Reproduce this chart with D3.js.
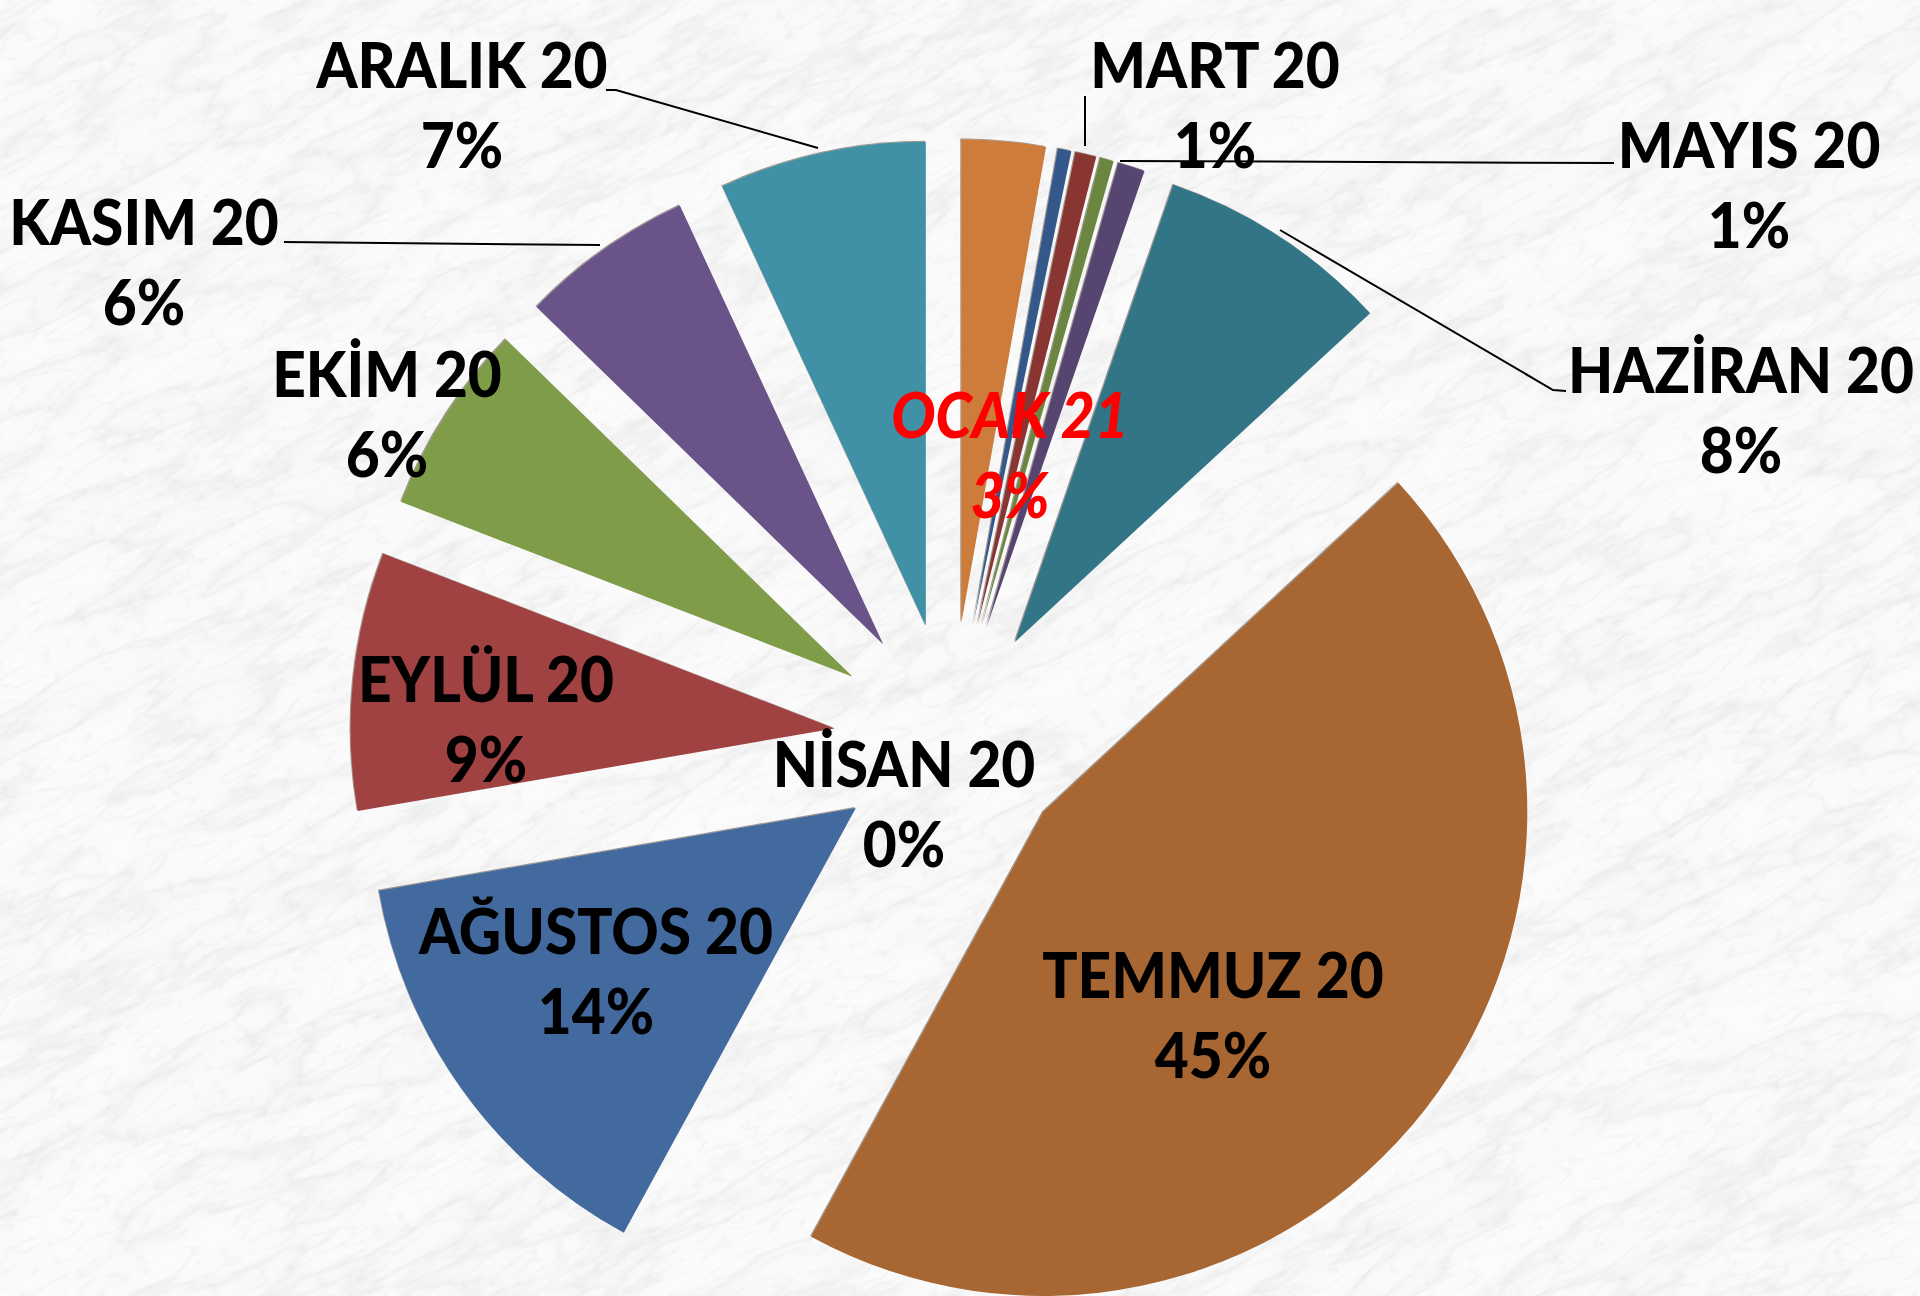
<!DOCTYPE html>
<html>
<head>
<meta charset="utf-8">
<script src="https://cdn.jsdelivr.net/npm/d3@7"></script>
<style>
html,body{margin:0;padding:0;background:#f5f5f5;}
svg{display:block;}
</style>
</head>
<body>
<svg id="chart" width="1920" height="1296"></svg>
<script>
// ---- data ----
const categories = ["ŞUBAT 20","MART 20","NİSAN 20","MAYIS 20","HAZİRAN 20","TEMMUZ 20","AĞUSTOS 20","EYLÜL 20","EKİM 20","KASIM 20","ARALIK 20","OCAK 21"];
const values     = [0.45, 0.7, 0.45, 0.9, 7.8, 44.8, 14.3, 8.6, 6.4, 5.8, 6.9, 2.8];
const colors     = ["#34598a","#893533","#6b863f","#574470","#327587","#a86630","#426a9e","#a04242","#7f9c4a","#6a5389","#3f90a6","#cd7b3a"];
const showLabel  = [false, true, true, true, true, true, true, true, true, true, true, true];

// ---- layout (label anchors & leader lines) ----
const layout = {
  "MART 20":    {x:1215, y:88,  lead:[[1085,96],[1085,146]]},
  "NİSAN 20":   {x:904,  y:787},
  "MAYIS 20":   {x:1749, y:168, lead:[[1120,161],[1614,163]]},
  "HAZİRAN 20": {x:1741, y:393, lead:[[1280,230],[1553,390],[1566,391]]},
  "TEMMUZ 20":  {x:1213, y:998},
  "AĞUSTOS 20": {x:596,  y:954},
  "EYLÜL 20":   {x:486,  y:702},
  "EKİM 20":    {x:387,  y:397},
  "KASIM 20":   {x:144,  y:245, lead:[[284,242],[600,245]]},
  "ARALIK 20":  {x:462,  y:88,  lead:[[606,90],[616,90],[818,148]]},
  "OCAK 21":    {x:1010, y:438, red:true}
};

const W = 1920, H = 1296;
const cx = 951, cy = 740, R = 484, explode = 117, lineGap = 80;
const fontSize = 62, xScale = 0.945;

const svg = d3.select("#chart");
const defs = svg.append("defs");

// marble-like background
const f = defs.append("filter").attr("id","marble").attr("filterUnits","userSpaceOnUse")
  .attr("x",-800).attr("y",-800).attr("width",3600).attr("height",3000);
f.append("feTurbulence").attr("type","fractalNoise").attr("baseFrequency","0.005 0.02").attr("numOctaves",5).attr("seed",7);
f.append("feColorMatrix").attr("type","matrix").attr("values","1 0 0 0 0  1 0 0 0 0  1 0 0 0 0  0 0 0 0 1");
const ct = f.append("feComponentTransfer");
const tbl = "0.97 0.97 0.97 0.96 0.96 0.96 0.95 0.95 0.93 0.88 0.94 0.96 0.96 0.97 0.97 0.97 0.97 0.97 0.97 0.97 0.97";
ct.append("feFuncR").attr("type","table").attr("tableValues",tbl);
ct.append("feFuncG").attr("type","table").attr("tableValues",tbl);
ct.append("feFuncB").attr("type","table").attr("tableValues",tbl);

const f2 = defs.append("filter").attr("id","speck").attr("filterUnits","userSpaceOnUse")
  .attr("x",-800).attr("y",-800).attr("width",3600).attr("height",3000);
f2.append("feTurbulence").attr("type","turbulence").attr("baseFrequency","0.02 0.06").attr("numOctaves",3).attr("seed",2);
f2.append("feColorMatrix").attr("type","matrix").attr("values","0 0 0 0 0.6  0 0 0 0 0.6  0 0 0 0 0.6  -0.8 0 0 0 0.18");

const bg = svg.append("g").attr("transform","rotate(-28 960 648)");
bg.append("rect").attr("x",-800).attr("y",-800).attr("width",3600).attr("height",3000).attr("fill","#f5f5f5").attr("filter","url(#marble)");
bg.append("rect").attr("x",-800).attr("y",-800).attr("width",3600).attr("height",3000).attr("fill","#fff").attr("filter","url(#speck)");

// slice edge shadow
const sh = defs.append("filter").attr("id","edge").attr("x","-10%").attr("y","-10%").attr("width","120%").attr("height","120%");
sh.append("feDropShadow").attr("dx",-1).attr("dy",-1).attr("stdDeviation",0.5).attr("flood-color","#2a1a0a").attr("flood-opacity",0.45);

// ---- pie ----
const total = d3.sum(values);
const offset = values[values.length-1] / total * 2 * Math.PI; // first slice angle
const pie = d3.pie().value(d => d.v).sort(null).startAngle(offset).endAngle(offset + 2*Math.PI);
const data = categories.map((c,i) => ({c, v:values[i], col:colors[i], show:showLabel[i]}));
const arcs = pie(data);
const arc = d3.arc().innerRadius(0).outerRadius(R);

const g = svg.append("g").attr("transform",`translate(${cx},${cy})`);
g.selectAll("path").data(arcs).join("path")
  .attr("d", arc)
  .attr("fill", d => d.data.col)
  .attr("filter","url(#edge)")
  .attr("transform", d => {
    const m = (d.startAngle + d.endAngle)/2;
    return `translate(${Math.sin(m)*explode},${-Math.cos(m)*explode})`;
  });

// ---- leader lines ----
const line = d3.line();
arcs.filter(d => d.data.show && layout[d.data.c] && layout[d.data.c].lead).forEach(d => {
  svg.append("path").attr("d", line(layout[d.data.c].lead))
    .attr("fill","none").attr("stroke","#000").attr("stroke-width",2);
});

// ---- labels ----
const fmt = v => Math.round(v/total*100) + "%";
const lab = svg.append("g").attr("font-family","Lato, 'Open Sans', sans-serif").attr("font-weight",900)
  .attr("font-size",fontSize).attr("text-anchor","middle");
arcs.filter(d => d.data.show).forEach(d => {
  const L = layout[d.data.c];
  const t = lab.append("text")
    .attr("transform",`translate(${L.x},${L.y}) scale(${xScale},1)`)
    .attr("fill", L.red ? "#ff0000" : "#000")
    .attr("font-style", L.red ? "italic" : "normal");
  t.append("tspan").attr("x",0).attr("y",0).text(d.data.c);
  t.append("tspan").attr("x",0).attr("y",lineGap).text(fmt(d.data.v));
});
</script>
</body>
</html>
